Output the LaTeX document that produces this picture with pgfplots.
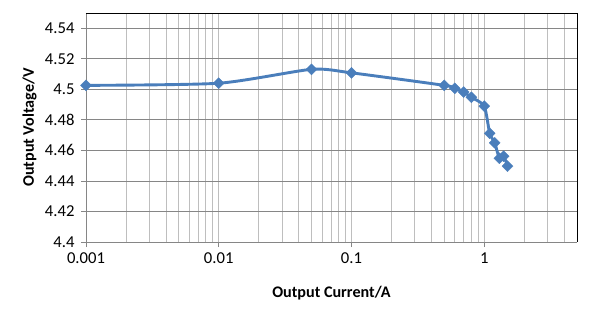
\documentclass[border=0pt]{standalone}
\usepackage{pgfplots}
\pgfplotsset{compat=1.18}
\usepackage{fontspec}
\setmainfont{Carlito}
\definecolor{series}{HTML}{4A7EBB}
\definecolor{hgrid}{HTML}{868686}
\definecolor{vgrid}{HTML}{BEBEBE}
\begin{document}
\begin{tikzpicture}[x=1bp,y=1bp]
\path[use as bounding box] (-86,-72) rectangle (508,242);
\begin{axis}[
  at={(0,0)}, anchor=south west,
  scale only axis, width=491bp, height=229bp,
  xmode=log, xmin=0.001, xmax=5,
  ymin=4.4, ymax=4.55,
  font=\fontsize{16.2}{19}\selectfont,
  tick label style={font=\fontsize{16.7}{19}\selectfont},
  /pgf/number format/assume math mode=true,
  xtick={0.001,0.01,0.1,1},
  xticklabels={0.001,0.01,0.1,1},
  minor xtick={0.002,0.003,0.004,0.005,0.006,0.007,0.008,0.009,
               0.02,0.03,0.04,0.05,0.06,0.07,0.08,0.09,
               0.2,0.3,0.4,0.5,0.6,0.7,0.8,0.9,2,3,4,5},
  ytick={4.4,4.42,4.44,4.46,4.48,4.5,4.52,4.54},
  yticklabels={4.4,4.42,4.44,4.46,4.48,4.5,4.52,4.54},
  xmajorgrids, xminorgrids, ymajorgrids,
  x grid style={vgrid, line width=0.75bp},
  minor x grid style={vgrid, line width=0.75bp},
  y grid style={hgrid, line width=0.75bp},
  axis line style={draw=none},
  tick style={hgrid, line width=0.75bp},
  major tick length=5bp, minor tick length=0pt,
  tick align=outside,
  xtick pos=bottom, ytick pos=left,
  xlabel={\bfseries Output Current/A},
  ylabel={\bfseries Output Voltage/V},
  xlabel style={at={(axis description cs:0.5,0)}, anchor=base, yshift=-55bp},
  ylabel style={at={(axis description cs:0,0.5)}, anchor=base, yshift=52bp},
  xticklabel style={yshift=-2bp},
  yticklabel style={xshift=-3bp},
  clip=false,
]
\draw[hgrid, line width=0.75bp] (rel axis cs:0,0) -- (rel axis cs:1,0);
\draw[hgrid, line width=0.75bp] (rel axis cs:0,0) -- (rel axis cs:0,1);
\draw[black, line width=0.75bp] (rel axis cs:0,1) -- (rel axis cs:1,1) -- (rel axis cs:1,0);
\addplot[series, line width=2.9bp, smooth, tension=0.4,
  mark=square*, mark size=3.9bp, mark options={rotate=45, fill=series, draw=series, line width=0.3bp}]
  coordinates {
  (0.001,4.5026) (0.01,4.5040) (0.05,4.5131) (0.1,4.5108)
  (0.5,4.5026) (0.6,4.5007) (0.7,4.4982) (0.8,4.4948)
  (1.0,4.4890) (1.1,4.4712) (1.2,4.4650) (1.3,4.4549)
  (1.4,4.4562) (1.5,4.4497)
  };
\end{axis}
\end{tikzpicture}
\end{document}
